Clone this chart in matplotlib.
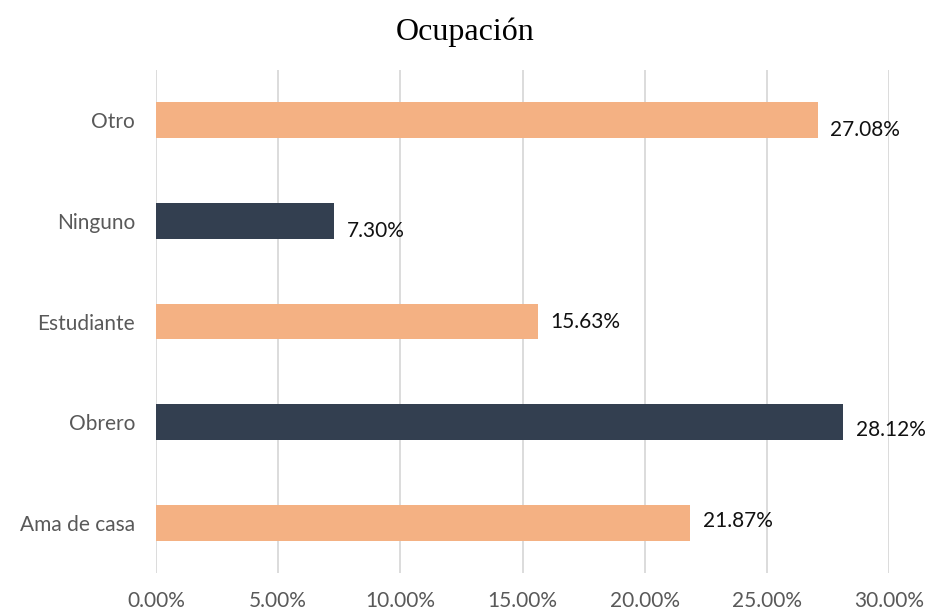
import numpy as np
import matplotlib.pyplot as plt
from matplotlib.ticker import FuncFormatter

## categories bottom to top, values in percent
categories = ['Ama de casa', 'Obrero', 'Estudiante', 'Ninguno', 'Otro']
values = [21.87, 28.12, 15.63, 7.30, 27.08]
bar_colors = ['#F4B183', '#333F50', '#F4B183', '#333F50', '#F4B183']
label_dy = [1, -6, 0, -7, -7]  ## vertical nudge of the data labels, in points
xticks = [0, 5, 10, 15, 20, 25, 30]

plt.rcParams['font.family'] = ['Lato', 'DejaVu Sans']

fig = plt.figure(figsize=(9.31, 6.15), dpi=100)
ax = fig.add_axes([156/931, (615-573)/615, 733/931, 503/615])

y = np.arange(len(categories))
ax.barh(y, values, height=0.357, color=bar_colors, zorder=3)

for yi, v, dy in zip(y, values, label_dy):
    ax.annotate(f'{v:.2f}%', (v, yi), xytext=(9, dy), textcoords='offset points',
                va='center', ha='left', fontsize=15, color='#111111')

ax.set_xlim(0, 30)
ax.set_ylim(-0.5, len(categories) - 0.5)
ax.set_xticks(xticks)
ax.xaxis.set_major_formatter(FuncFormatter(lambda x, p: f'{x:.2f}%'))
ax.set_yticks(y)
ax.set_yticklabels(categories)

ax.grid(axis='x', color='#D9D9D9', linewidth=1.3, zorder=0)
for s in ax.spines.values():
    s.set_visible(False)
ax.tick_params(axis='both', length=0, labelsize=15, colors='#595959')
ax.tick_params(axis='x', pad=13)
ax.tick_params(axis='y', pad=15)

fig.suptitle('Ocupación', y=0.972, fontsize=23, family='Liberation Serif', color='#000000')

plt.savefig('out.png', dpi=100)
